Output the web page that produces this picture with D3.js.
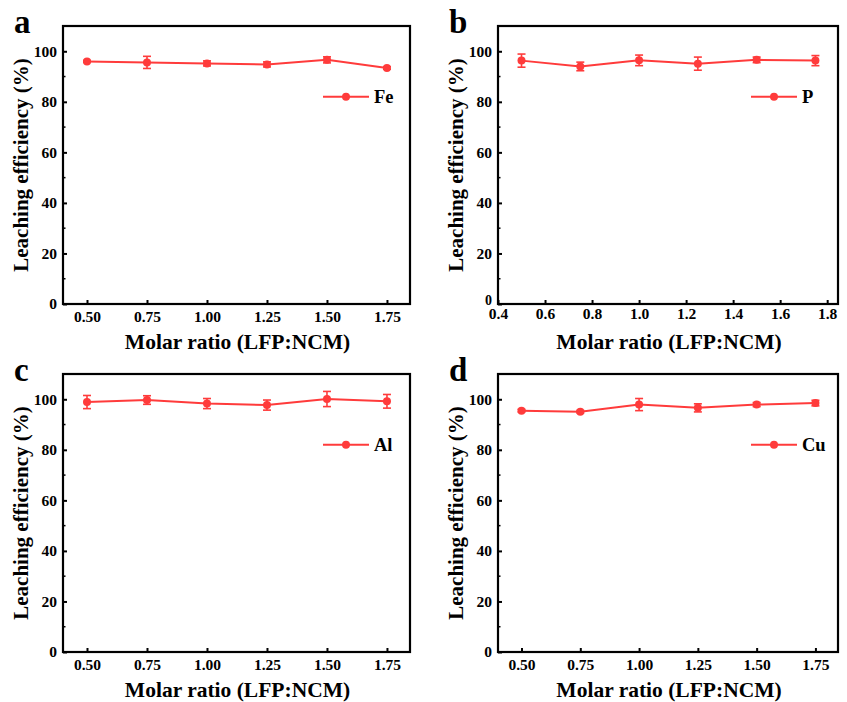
<!DOCTYPE html>
<html>
<head>
<meta charset="utf-8">
<script src="https://cdn.jsdelivr.net/npm/d3@7"></script>
<style>
  body { margin: 0; background: #fff; }
  svg text { font-family: "Liberation Serif", "Times New Roman", Times, serif !important; font-weight: 700 !important; }
</style>
</head>
<body>
<svg id="chart" width="847" height="702"></svg>
<script>
(function (d3) {
    'use strict';

    // molar ratio LFP:NCM
    const ratios = [0.50, 0.75, 1.00, 1.25, 1.50, 1.75];

    const feVals = [96.0, 95.6, 95.2, 94.8, 96.6, 93.4];
    const feErr  = [0.4, 2.4, 1.0, 1.0, 1.2, 0.5];
    const pVals  = [96.3, 94.0, 96.4, 95.1, 96.6, 96.3];
    const pErr   = [2.6, 1.7, 2.1, 2.6, 1.1, 2.0];
    const alVals = [98.9, 99.7, 98.3, 97.7, 100.1, 99.2];
    const alErr  = [2.6, 1.7, 2.0, 2.0, 3.0, 2.7];
    const cuVals = [95.5, 95.1, 97.9, 96.6, 97.9, 98.5];
    const cuErr  = [0.5, 0.5, 2.4, 1.6, 0.8, 1.1];

    const xTicksA = [0.50, 0.75, 1.00, 1.25, 1.50, 1.75];
    const xTicksB = [0.4, 0.6, 0.8, 1.0, 1.2, 1.4, 1.6, 1.8];
    const yTicks = [0, 20, 40, 60, 80, 100];
    const yMinor = [10, 30, 50, 70, 90];

    const red = '#ff3b3b';
    const serif = '"Liberation Serif", "Times New Roman", Times, serif';
    const svg = d3.select('#chart').attr('font-family', serif);

    function panel(opt) {
        const x = d3.scaleLinear().domain([0.4, 1.846]).range([opt.left, opt.right]);
        const y = d3.scaleLinear().domain([0, 110]).range([opt.bottom, opt.top]);
        const g = svg.append('g');

        // inward ticks
        const xAxis = d3.axisBottom(x).tickValues(opt.xTicks)
            .tickFormat(opt.fmt).tickSize(-4).tickPadding(opt.xPad);
        const gx = g.append('g').attr('transform', `translate(0,${opt.bottom})`).call(xAxis)
            .attr('font-family', serif).attr('font-size', 15.5);
        gx.select('.domain').remove();
        gx.selectAll('line').attr('stroke', '#000').attr('stroke-width', 2);
        gx.selectAll('text').attr('fill', '#000');

        const yAxis = d3.axisLeft(y).tickValues(yTicks).tickSize(-4).tickPadding(6);
        const gy = g.append('g').attr('transform', `translate(${opt.left},0)`).call(yAxis)
            .attr('font-family', serif).attr('font-size', 15.5);
        gy.select('.domain').remove();
        gy.selectAll('line').attr('stroke', '#000').attr('stroke-width', 2);
        gy.selectAll('text').attr('fill', '#000');
        if (opt.lowZero) {
            // zero label sits tight above the 0.4 label in panel b
            gy.selectAll('.tick text').filter(d => d === 0)
                .attr('dy', '0.05em').attr('font-size', 14);
        }

        g.selectAll('.minor').data(yMinor).enter().append('line')
            .attr('x1', opt.left).attr('x2', opt.left + 2.5)
            .attr('y1', d => y(d)).attr('y2', d => y(d))
            .attr('stroke', '#000').attr('stroke-width', 1.5);

        g.append('rect')
            .attr('x', opt.left).attr('y', opt.top)
            .attr('width', opt.right - opt.left).attr('height', opt.bottom - opt.top)
            .attr('fill', 'none').attr('stroke', '#000').attr('stroke-width', 2.2);

        const pts = ratios.map((r, i) => ({ x: r, v: opt.vals[i], e: opt.err[i] }));

        // error bars
        const eb = g.selectAll('.eb').data(pts).enter().append('g').attr('stroke', red).attr('stroke-width', 1.6);
        eb.append('line').attr('x1', d => x(d.x)).attr('x2', d => x(d.x))
            .attr('y1', d => y(d.v - d.e)).attr('y2', d => y(d.v + d.e));
        eb.append('line').attr('x1', d => x(d.x) - 4).attr('x2', d => x(d.x) + 4)
            .attr('y1', d => y(d.v - d.e)).attr('y2', d => y(d.v - d.e));
        eb.append('line').attr('x1', d => x(d.x) - 4).attr('x2', d => x(d.x) + 4)
            .attr('y1', d => y(d.v + d.e)).attr('y2', d => y(d.v + d.e));

        const line = d3.line().x(d => x(d.x)).y(d => y(d.v));
        g.append('path').datum(pts).attr('d', line)
            .attr('fill', 'none').attr('stroke', red).attr('stroke-width', 2);
        g.selectAll('.pt').data(pts).enter().append('circle')
            .attr('cx', d => x(d.x)).attr('cy', d => y(d.v)).attr('r', 4)
            .attr('fill', red);

        // legend
        const lx = opt.right - 87, ly = y(opt.legendY);
        g.append('line').attr('x1', lx).attr('x2', lx + 46).attr('y1', ly).attr('y2', ly)
            .attr('stroke', red).attr('stroke-width', 2);
        g.append('circle').attr('cx', lx + 23).attr('cy', ly).attr('r', 4).attr('fill', red);
        g.append('text').attr('x', lx + 51).attr('y', ly + 6)
            .attr('font-size', 18.5).text(opt.name);

        // titles
        g.append('text').attr('x', (opt.left + opt.right) / 2 + 1).attr('y', opt.bottom + 45)
            .attr('text-anchor', 'middle').attr('font-size', 21.5).text('Molar ratio (LFP:NCM)');
        g.append('text')
            .attr('transform', `translate(${opt.left - 35},${(opt.top + opt.bottom) / 2}) rotate(-90)`)
            .attr('text-anchor', 'middle').attr('font-size', 21).text('Leaching efficiency (%)');
        g.append('text').attr('x', opt.left - 49).attr('y', opt.top + 7)
            .attr('font-size', 33).text(opt.letter);
    }

    const fmt2 = d3.format('.2f');
    const fmt1 = d3.format('.1f');

    panel({ left: 63, right: 410, top: 26, bottom: 304, xTicks: xTicksA, fmt: fmt2, xPad: 7,
            vals: feVals, err: feErr, name: 'Fe', letter: 'a', legendY: 82 });
    panel({ left: 498, right: 838, top: 26, bottom: 304, xTicks: xTicksB, fmt: fmt1, xPad: 4,
            lowZero: true, vals: pVals, err: pErr, name: 'P', letter: 'b', legendY: 82 });
    panel({ left: 63, right: 410, top: 374, bottom: 652, xTicks: xTicksA, fmt: fmt2, xPad: 7,
            vals: alVals, err: alErr, name: 'Al', letter: 'c', legendY: 82 });
    panel({ left: 498, right: 838, top: 374, bottom: 652, xTicks: xTicksA, fmt: fmt2, xPad: 7,
            vals: cuVals, err: cuErr, name: 'Cu', letter: 'd', legendY: 82 });
}(d3));
</script>
</body>
</html>
